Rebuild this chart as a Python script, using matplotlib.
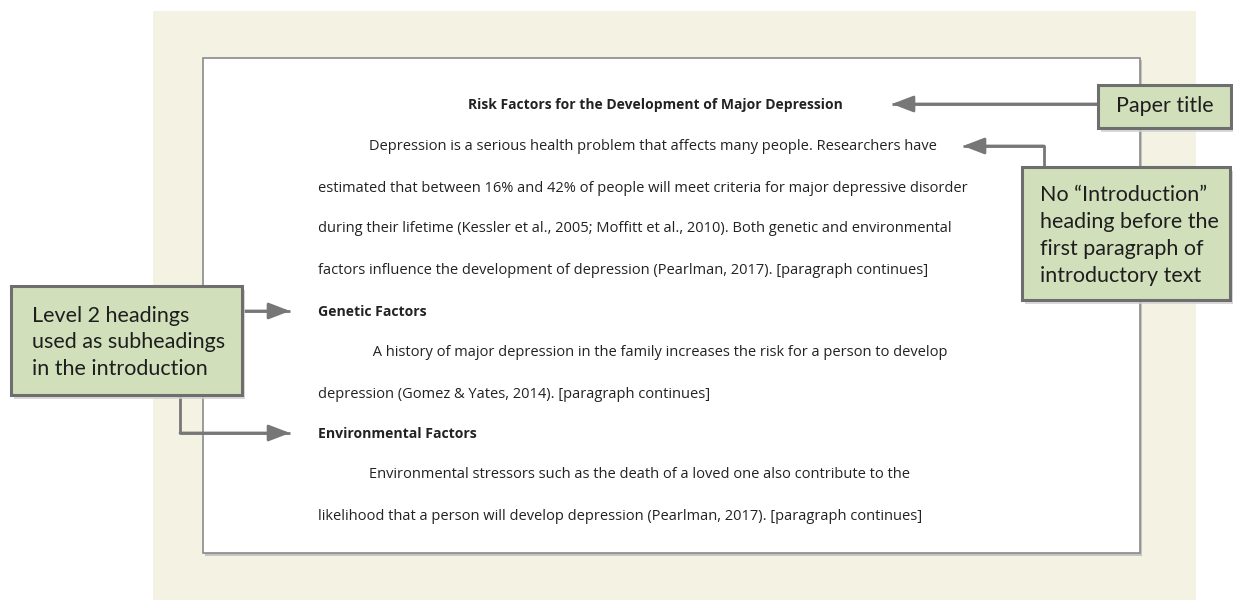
import matplotlib
matplotlib.use("Agg")
import matplotlib.pyplot as plt
from matplotlib.patches import Rectangle, FancyArrowPatch

title_text = "Risk Factors for the Development of Major Depression"
para1_lines = [
    "Depression is a serious health problem that affects many people. Researchers have",
    "estimated that between 16% and 42% of people will meet criteria for major depressive disorder",
    "during their lifetime (Kessler et al., 2005; Moffitt et al., 2010). Both genetic and environmental",
    "factors influence the development of depression (Pearlman, 2017). [paragraph continues]",
]
heading1 = "Genetic Factors"
para2_lines = [
    " A history of major depression in the family increases the risk for a person to develop",
    "depression (Gomez & Yates, 2014). [paragraph continues]",
]
heading2 = "Environmental Factors"
para3_lines = [
    "Environmental stressors such as the death of a loved one also contribute to the",
    "likelihood that a person will develop depression (Pearlman, 2017). [paragraph continues]",
]
callout_title = "Paper title"
callout_intro = "No \u201cIntroduction\u201d\nheading before the\nfirst paragraph of\nintroductory text"
callout_level2 = "Level 2 headings\nused as subheadings\nin the introduction"

BEIGE = "#F4F2E3"
GREEN = "#D1DFBB"
EDGE = "#6E6E6E"
ARROW = "#777777"
TXT = "#222222"

fig = plt.figure(figsize=(12.33, 6.0), dpi=100)
ax = fig.add_axes([0, 0, 1, 1])
ax.set_xlim(0, 1233)
ax.set_ylim(600, 0)
ax.axis("off")

# background panel
ax.add_patch(Rectangle((153, 11), 1043, 600, facecolor=BEIGE, edgecolor="none", zorder=0))
# page shadow and page
ax.add_patch(Rectangle((205, 60), 937, 496, facecolor="#C4C4C4", edgecolor="none", zorder=1))
ax.add_patch(Rectangle((203, 58), 937, 495, facecolor="white", edgecolor="#8A8A8A", lw=1.2, zorder=2))

pfont = "Open Sans"
fs = 10.55
ax.text(655, 105, title_text, ha="center", va="center", fontsize=10.0, fontweight="bold",
        family=pfont, color=TXT, zorder=3)

ys = [147, 188, 229, 270]
xs = [369, 318, 318, 318]
for s, x, y in zip(para1_lines, xs, ys):
    ax.text(x, y, s, ha="left", va="center", fontsize=fs, family=pfont, color=TXT, zorder=3)
ax.text(318, 312, heading1, ha="left", va="center", fontsize=fs - 0.5, fontweight="bold",
        family=pfont, color=TXT, zorder=3)
for s, x, y in zip(para2_lines, [369, 318], [353, 394]):
    ax.text(x, y, s, ha="left", va="center", fontsize=fs, family=pfont, color=TXT, zorder=3)
ax.text(318, 434, heading2, ha="left", va="center", fontsize=fs - 0.5, fontweight="bold",
        family=pfont, color=TXT, zorder=3)
for s, x, y in zip(para3_lines, [369, 318], [475, 516]):
    ax.text(x, y, s, ha="left", va="center", fontsize=fs, family=pfont, color=TXT, zorder=3)


def box(x0, y0, x1, y1, text, tx, fsz=15, ls=1.2, dy=0):
    ax.add_patch(Rectangle((x0 + 3, y0 + 4), x1 - x0, y1 - y0, facecolor="#CFCFCF",
                           edgecolor="none", zorder=4, alpha=0.8))
    ax.add_patch(Rectangle((x0, y0), x1 - x0, y1 - y0, facecolor=GREEN, edgecolor=EDGE,
                           lw=2.2, zorder=5))
    ax.text(tx, (y0 + y1) / 2 + dy, text, ha="left", va="center", fontsize=fsz, family="Lato",
            color="#1E1E1E", linespacing=ls, zorder=6)


def arrow(points):
    xs_, ys_ = zip(*points)
    ax.plot(xs_, ys_, color=ARROW, lw=2, zorder=3, solid_capstyle="butt")
    a = FancyArrowPatch(points[-2], points[-1], arrowstyle="-|>,head_length=13,head_width=5",
                        color=ARROW, lw=2, mutation_scale=1, zorder=3, shrinkA=0, shrinkB=0)
    ax.add_patch(a)


box(1098, 85, 1231, 128, callout_title, 1116, 15.5)
box(1022, 167, 1230, 300, callout_intro, 1040, 15.5, 1.45, 2)
box(11, 286, 242, 395, callout_level2, 32, 15.5, 1.4, 2)

arrow([(1098, 104), (892, 104)])
arrow([(1044, 167), (1044, 146), (963, 146)])
arrow([(242, 311), (290, 311)])
arrow([(180, 395), (180, 433), (290, 433)])

fig.savefig("out.png", dpi=100, facecolor="white")
